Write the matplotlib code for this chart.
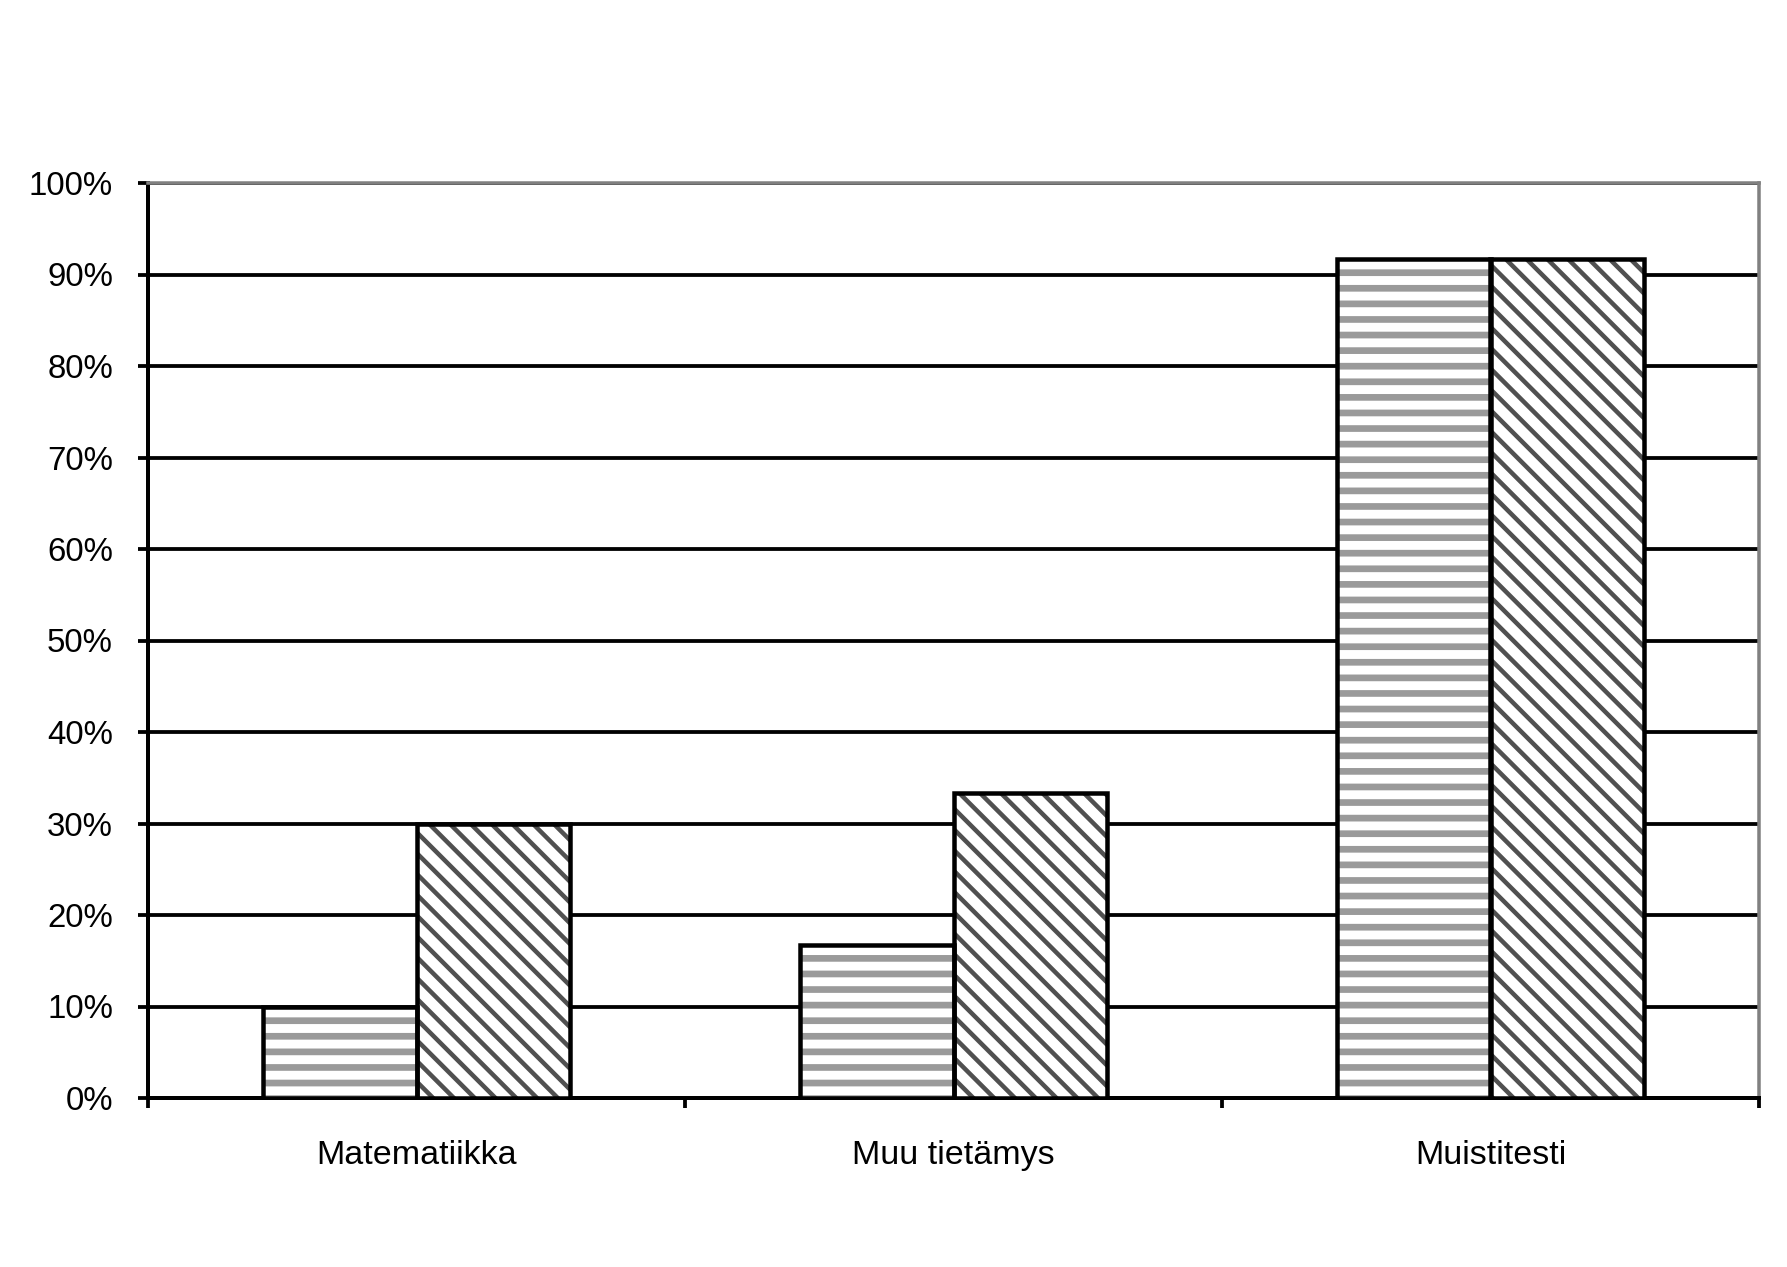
import matplotlib
matplotlib.use("Agg")
import matplotlib.pyplot as plt
from matplotlib.ticker import FixedLocator, PercentFormatter

# tiedot
kategoriat = ["Matematiikka", "Muu tietämys", "Muistitesti"]
sarja1 = [0.10, 0.167, 0.917]   # vaakaraidat
sarja2 = [0.30, 0.333, 0.917]   # vinoraidat
y_tikit = [0.0, 0.1, 0.2, 0.3, 0.4, 0.5, 0.6, 0.7, 0.8, 0.9, 1.0]

# hatch-kuvion yksikkö = DPI pikseliä, valittu raitojen välien mukaan
DPI = 187


def pt(p):
    # pikselit -> pisteet
    return p * 72.0 / DPI


plt.rcParams['font.family'] = ['Liberation Sans', 'DejaVu Sans']

fig = plt.figure(figsize=(1787 / DPI, 1267 / DPI), dpi=DPI)
ax = fig.add_axes([148 / 1787, 1 - 1098 / 1267, (1759 - 148) / 1787, (1098 - 183) / 1267])

x = list(range(len(kategoriat)))
w = 0.286
x1 = [i - w / 2 for i in x]
x2 = [i + w / 2 for i in x]


def hatched(xs, vals, hatch, color, lw):
    with plt.rc_context({'hatch.linewidth': lw, 'hatch.color': color}):
        bars = ax.bar(xs, vals, width=w, color='white', edgecolor=color,
                      linewidth=0, hatch=hatch, zorder=3)
    for b in bars:
        if hasattr(b, 'set_hatch_linewidth'):
            b.set_hatch_linewidth(lw)
    # mustat reunat päälle
    ax.bar(xs, vals, width=w, fill=False, edgecolor='black',
           linewidth=pt(4.5), zorder=4)


hatched(x1, sarja1, '--', '#9a9a9a', pt(6.7))
hatched(x2, sarja2, '\\\\\\', '#505050', pt(4.5))

ax.set_xlim(-0.5, 2.5)
ax.set_ylim(0, 1)

ax.yaxis.set_major_locator(FixedLocator(y_tikit))
ax.yaxis.set_major_formatter(PercentFormatter(1.0, decimals=0))
ax.grid(axis='y', color='black', linewidth=pt(3.8))
ax.set_axisbelow(True)

ax.set_xticks([-0.5, 0.5, 1.5, 2.5])
ax.set_xticklabels([])
ax.set_xticks(x, minor=True)
ax.set_xticklabels(kategoriat, minor=True, fontsize=pt(34))

ax.tick_params(axis='y', direction='out', length=pt(10), width=pt(3.8),
               pad=pt(25), labelsize=pt(33))
ax.tick_params(axis='x', which='major', direction='out', length=pt(10), width=pt(3.8))
ax.tick_params(axis='x', which='minor', length=0, pad=pt(42))

for s in ['left', 'bottom']:
    ax.spines[s].set_color('black')
    ax.spines[s].set_linewidth(pt(4))
for s in ['top', 'right']:
    ax.spines[s].set_color('#808080')
    ax.spines[s].set_linewidth(pt(3.5))

fig.savefig('out.png', dpi=DPI)
